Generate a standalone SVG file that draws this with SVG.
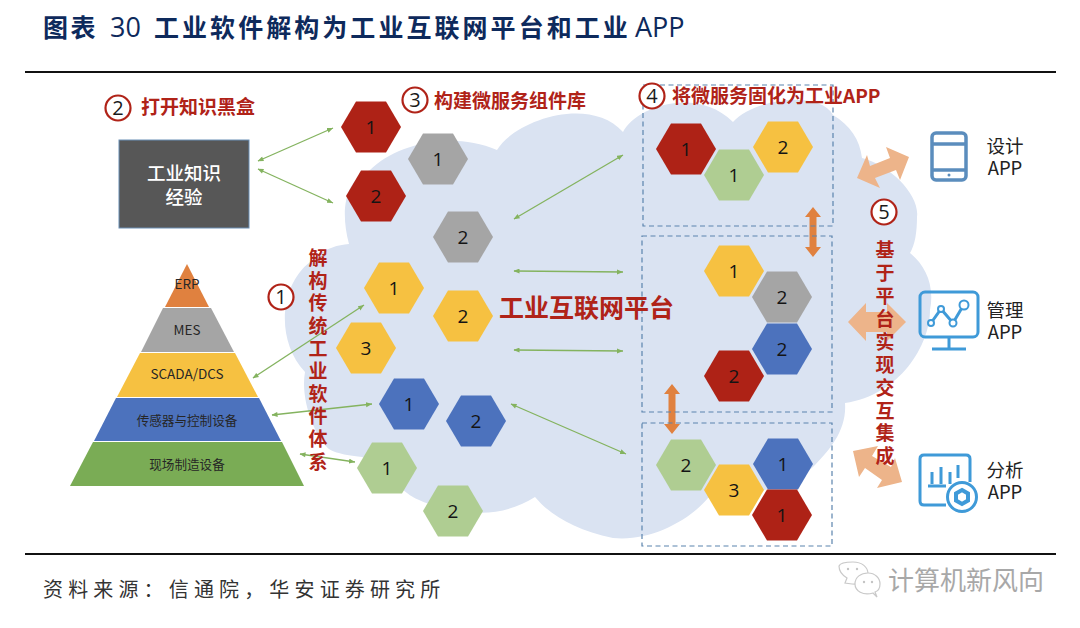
<svg xmlns="http://www.w3.org/2000/svg" width="1080" height="628" viewBox="0 0 1080 628">
<style>
text{font-family:"Noto Sans CJK SC","Noto Sans",sans-serif}
.n{font-family:"Open Sans","Noto Sans",sans-serif;font-size:19px;fill:#141414;text-anchor:middle}
.r{font-weight:700;fill:#b02318;font-size:19px}
.v{font-weight:700;fill:#b02318;font-size:19px;writing-mode:vertical-rl}
.c{fill:#fff;stroke:#b02318;stroke-width:2.2}
.cn{font-family:"Open Sans",sans-serif;font-size:20px;fill:#1a1a1a;text-anchor:middle}
.p{font-size:13.500px;fill:#262626;text-anchor:middle}
.a{font-size:18.500px;fill:#222;text-anchor:middle}
.g{stroke:#84b35f;stroke-width:1.3;fill:none;marker-start:url(#as);marker-end:url(#ae)}
.d{fill:none;stroke:#5b84ad;stroke-width:1.2;stroke-dasharray:5 3.500}
.big{fill:#edb48a}
.or{fill:#e0813f}
.ic{fill:none;stroke:#5b8dbd;stroke-width:3.500}
.ib{fill:none;stroke:#3f9ad8;stroke-width:3}
.rule{stroke:#111;stroke-width:2}
.red{fill:#ae2216}.yel{fill:#f6c141}.gre{fill:#a5a5a5}.blu{fill:#4c72bd}.grn{fill:#afcd92}
</style>
<defs>
<marker id="ae" markerWidth="7" markerHeight="6" refX="6" refY="2.500" orient="auto" markerUnits="userSpaceOnUse"><path d="M0 0L6 2.500L0 5z" fill="#84b35f"/></marker>
<marker id="as" markerWidth="7" markerHeight="6" refX="0.500" refY="2.500" orient="auto" markerUnits="userSpaceOnUse"><path d="M6 0L0 2.500L6 5z" fill="#84b35f"/></marker>
<polygon id="hex" points="-30,0 -15,-25.500 15,-25.500 30,0 15,25.500 -15,25.500"/>
<polygon id="dbl" points="0,-25 8,-15 3.500,-15 3.500,15 8,15 0,25 -8,15 -3.500,15 -3.500,-15 -8,-15"/>
</defs>
<rect width="1080" height="628" fill="#fff"/>
<text id="title" y="37" font-size="25" font-weight="700" fill="#0e2a5c"><tspan x="43" letter-spacing="2.500">图表</tspan><tspan x="110" font-family="Open Sans,sans-serif" font-weight="500" font-size="27">30</tspan><tspan x="154" letter-spacing="3.050">工业软件解构为工业互联网平台和工业</tspan><tspan x="635" font-family="Open Sans,sans-serif" font-weight="500" font-size="27">APP</tspan></text>
<line class="rule" x1="25" y1="72" x2="1056" y2="72"/>
<line class="rule" x1="25" y1="554" x2="1056" y2="554"/>
<path id="cloud" fill="#dae3f2" d="M305 372C275 340 280 285 310 262C322 250 335 245 349 244C340 210 345 180 370 170C395 145 450 130 497 150C515 120 590 95 623 132C635 108 695 85 733 122C755 98 820 90 833 115C850 125 860 140 862 158C890 165 920 195 917 217C917 232 915 245 910 253C925 265 935 285 930 310C930 345 900 395 845 403C847 430 830 450 813 467C790 488 750 495 708 498C690 520 650 542 613 538C575 530 550 515 535 497C515 510 490 515 470 512C440 510 415 500 407 493C390 480 375 462 362 457C340 455 328 450 327 447C315 435 300 400 305 372Z"/>
<g id="connectors">
<line class="g" x1="258" y1="161" x2="333" y2="128"/>
<line class="g" x1="258" y1="169" x2="333" y2="203"/>
<line class="g" x1="253" y1="378" x2="364" y2="305"/>
<line class="g" x1="272" y1="415" x2="372" y2="404"/>
<line class="g" x1="300" y1="454" x2="355" y2="462"/>
<line class="g" x1="514" y1="219" x2="623" y2="155"/>
<line class="g" x1="514" y1="271" x2="623" y2="272"/>
<line class="g" x1="514" y1="350" x2="623" y2="351"/>
<line class="g" x1="511" y1="404" x2="626" y2="454"/>
<use href="#dbl" class="or" x="813" y="232"/>
<use href="#dbl" class="or" x="672" y="409"/>
<polygon class="big" points="857,178 867,155 870,166 890,158 886,147 909,157 900,180 896,170 875,178 880,188"/>
<polygon class="big" points="848,322 866,303 866,312 887,312 887,303 906,322 887,341 887,332 866,332 866,341"/>
<polygon class="big" points="853,451 878,446 872,456 891,467 895,458 902,482 877,488 882,480 865,468 859,477"/>
</g>
<g id="box1"><rect class="d" x="643" y="85" width="190" height="141"/></g>
<g id="box2"><rect class="d" x="642" y="236" width="190" height="176"/></g>
<g id="box3"><rect class="d" x="642" y="423" width="190" height="123"/></g>
<g id="knowledge">
<rect x="119" y="140" width="130" height="88" fill="#575757" stroke="#6b8fb5" stroke-width="1"/>
<text x="184" y="180" font-size="18.500" font-weight="500" fill="#fff" text-anchor="middle">工业知识</text>
<text x="184" y="204" font-size="18.500" font-weight="500" fill="#fff" text-anchor="middle">经验</text>
</g>
<g id="pyramid">
<polygon points="187,264 209,307 165,307" fill="#e0813f"/>
<polygon points="163,308 211,308 234,352 141,352" fill="#a5a5a5"/>
<polygon points="140,353 235,353 258,397 117,397" fill="#f6c141"/>
<polygon points="116,398 259,398 281,441 94,441" fill="#4c72bd"/>
<polygon points="93,442 282,442 304,486 70,486" fill="#7aac55"/>
<text class="p" x="187" y="289">ERP</text>
<text class="p" x="187" y="335">MES</text>
<text class="p" x="187" y="379">SCADA/DCS</text>
<text class="p" x="187" y="425" style="font-size:12.600px">传感器与控制设备</text>
<text class="p" x="187" y="469" style="font-size:12.600px">现场制造设备</text>
</g>
<g id="hr1"><use href="#hex" class="red" x="371" y="127"/><text class="n" x="371" y="134">1</text></g>
<g id="hg1"><use href="#hex" class="gre" x="438" y="159"/><text class="n" x="438" y="166">1</text></g>
<g id="hr2"><use href="#hex" class="red" x="376" y="196"/><text class="n" x="376" y="203">2</text></g>
<g id="hg2"><use href="#hex" class="gre" x="463" y="237"/><text class="n" x="463" y="244">2</text></g>
<g id="hy1"><use href="#hex" class="yel" x="394" y="288"/><text class="n" x="394" y="295">1</text></g>
<g id="hy2"><use href="#hex" class="yel" x="463" y="316"/><text class="n" x="463" y="323">2</text></g>
<g id="hy3"><use href="#hex" class="yel" x="366" y="348"/><text class="n" x="366" y="355">3</text></g>
<g id="hb1"><use href="#hex" class="blu" x="409" y="404"/><text class="n" x="409" y="411">1</text></g>
<g id="hb2"><use href="#hex" class="blu" x="476" y="421"/><text class="n" x="476" y="428">2</text></g>
<g id="hn1"><use href="#hex" class="grn" x="387" y="468"/><text class="n" x="387" y="475">1</text></g>
<g id="hn2"><use href="#hex" class="grn" x="453" y="511"/><text class="n" x="453" y="518">2</text></g>
<g id="a1r"><use href="#hex" class="red" x="686" y="149"/><text class="n" x="686" y="156">1</text></g>
<g id="a1n"><use href="#hex" class="grn" x="734" y="175"/><text class="n" x="734" y="182">1</text></g>
<g id="a1y"><use href="#hex" class="yel" x="783" y="147"/><text class="n" x="783" y="154">2</text></g>
<g id="a2y"><use href="#hex" class="yel" x="734" y="271"/><text class="n" x="734" y="278">1</text></g>
<g id="a2g"><use href="#hex" class="gre" x="782" y="297"/><text class="n" x="782" y="304">2</text></g>
<g id="a2b"><use href="#hex" class="blu" x="782" y="349"/><text class="n" x="782" y="356">2</text></g>
<g id="a2r"><use href="#hex" class="red" x="734" y="376"/><text class="n" x="734" y="383">2</text></g>
<g id="a3n"><use href="#hex" class="grn" x="686" y="465"/><text class="n" x="686" y="472">2</text></g>
<g id="a3y"><use href="#hex" class="yel" x="734" y="490"/><text class="n" x="734" y="497">3</text></g>
<g id="a3b"><use href="#hex" class="blu" x="783" y="464"/><text class="n" x="783" y="471">1</text></g>
<g id="a3r"><use href="#hex" class="red" x="782" y="515"/><text class="n" x="782" y="522">1</text></g>
<g id="labels">
<circle class="c" cx="118" cy="108" r="12.500"/><text class="cn" x="118" y="115">2</text>
<text class="r" x="141" y="114">打开知识黑盒</text>
<circle class="c" cx="415" cy="100" r="12.500"/><text class="cn" x="415" y="107">3</text>
<text class="r" x="434" y="108">构建微服务组件库</text>
<circle class="c" cx="652" cy="96" r="12.500"/><text class="cn" x="652" y="103">4</text>
<text class="r" x="672" y="103">将微服务固化为工业APP</text>
<circle class="c" cx="281" cy="297" r="12.500"/><text class="cn" x="281" y="304">1</text>
<circle class="c" cx="884" cy="212" r="12.500"/><text class="cn" x="884" y="219">5</text>
<text x="499" y="317" font-size="25" font-weight="700" fill="#b02318">工业互联网平台</text>
<text class="v" x="318" y="248.500" letter-spacing="3.600">解构传统工业软件体系</text>
<text class="v" x="885" y="240.500" letter-spacing="3.900">基于平台实现交互集成</text>
</g>
<g id="app-design">
<rect class="ic" x="932" y="133" width="34" height="47" rx="4"/>
<line class="ic" x1="932" y1="144" x2="966" y2="144" stroke-width="2"/>
<line class="ic" x1="932" y1="170" x2="966" y2="170" stroke-width="2"/>
<circle cx="949" cy="175" r="1.500" fill="#5b8dbd"/>
<text class="a" x="1005" y="153">设计</text><text class="a" x="1005" y="175">APP</text>
</g>
<g id="app-manage">
<rect class="ib" x="920" y="292" width="58" height="45" rx="5"/>
<line class="ib" x1="949" y1="337" x2="949" y2="349"/>
<line class="ib" x1="932" y1="349" x2="966" y2="349"/>
<polyline class="ib" points="931,323 941,309 953,323 963,306" stroke-width="2"/>
<circle cx="931" cy="323" r="3" fill="#fff" stroke="#3f9ad8" stroke-width="2"/>
<circle cx="941" cy="309" r="3" fill="#fff" stroke="#3f9ad8" stroke-width="2"/>
<circle cx="953" cy="323" r="3.500" fill="#fff" stroke="#3f9ad8" stroke-width="2"/>
<circle cx="964" cy="305" r="4.500" fill="#fff" stroke="#3f9ad8" stroke-width="2"/>
<text class="a" x="1005" y="317">管理</text><text class="a" x="1005" y="339">APP</text>
</g>
<g id="app-analysis">
<path class="ib" d="M946 505H924Q920 505 920 501V459Q920 455 924 455H966Q970 455 970 459V482"/>
<path class="ib" stroke-width="2.500" d="M928 486H946M932 484V472M941 484V467M950 484V472M958 478V465"/>
<circle cx="962" cy="497" r="14.500" fill="#fff" stroke="#3f9ad8" stroke-width="3"/>
<polygon points="962,490 968,493.500 968,500.500 962,504 956,500.500 956,493.500" fill="none" stroke="#3f9ad8" stroke-width="4"/>
<text class="a" x="1005" y="477">分析</text><text class="a" x="1005" y="499">APP</text>
</g>
<text id="source" x="43" y="597" font-size="20" fill="#333" letter-spacing="5.150">资料来源：信通院，华安证券研究所</text>
<g id="watermark">
<g fill="#fff" stroke="#c9c9c9" stroke-width="1.200">
<path d="M845 583L847 578C842 575 839 570 839 566C840 563 846 562 853 562C862 562 868 567 868 574C868 580 860 585 852 584Z"/>
<path d="M877 597L873 593C863 596 855 591 855 584C855 577 861 573 868 573C875 573 880 578 880 584C880 588 878 591 875 592Z"/>
</g>
<g fill="#c4c4c4"><circle cx="848" cy="569" r="1.200"/><circle cx="857" cy="569" r="1.200"/><circle cx="864" cy="582" r="1.200"/><circle cx="872" cy="582" r="1.200"/></g>
<text x="888" y="590" font-size="26" fill="#a8a8a8">计算机新风向</text>
</g>
</svg>
